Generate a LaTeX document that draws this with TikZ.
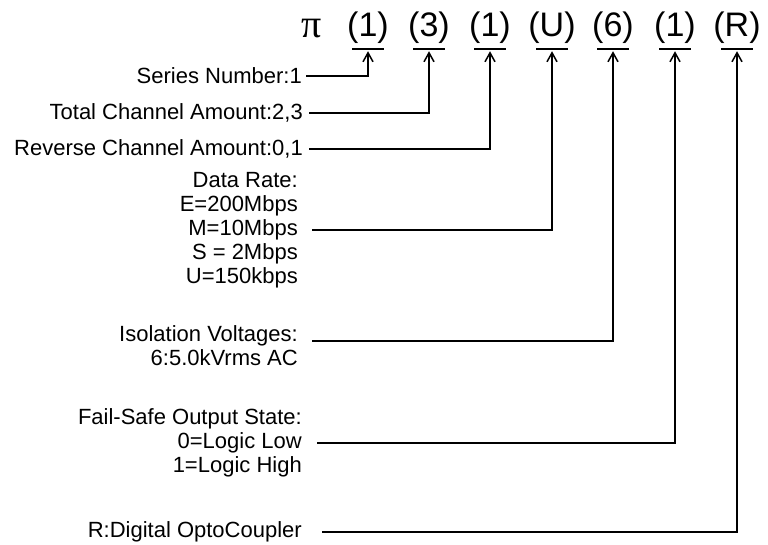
\documentclass[tikz,border=0pt]{standalone}
\usepackage{fontspec}
\setmainfont{Liberation Sans}
\newfontfamily\pifont{Liberation Serif}
\usetikzlibrary{arrows.meta}

\begin{document}
\begin{tikzpicture}
		[x=1pt,y=-1pt,
		code/.style={anchor=base,inner xsep=0pt,inner ysep=6pt,font=\fontsize{34}{34}\selectfont},
		lbl/.style={anchor=east,inner ysep=0pt,align=right,font=\fontsize{22}{24}\selectfont},
		uline/.style={line width=1.5pt},
		conn/.style={line width=1.5pt,-{Straight Barb[length=9pt,width=10pt]},shorten >=2pt}]

		\useasboundingbox (0,0) rectangle (768,544);

		% 型号前缀
		\node[inner sep=0pt,font=\pifont\fontsize{40}{40}\selectfont] (pi) at (312,29) {π};

		% 型号各位代码
		\foreach \t/\x [count=\i] in {1/368,3/429,1/490,U/552,6/613,1/675,R/737}
		\node[code] (g\i) at (\x,36) {(\t)};

		% 代码下划线
		\foreach \i in {1,...,7}
		\draw[uline] ([xshift=-16pt]g\i.south) -- ([xshift=16pt]g\i.south);

		% 各位说明
		\node[lbl,inner xsep=4pt] (sn) at (306,76) {Series Number:1};
		\node[lbl,inner xsep=6pt] (tc) at (309,113) {Total Channel Amount:2,3};
		\node[lbl,inner xsep=6pt] (rc) at (309,149) {Reverse Channel Amount:0,1};
		\node[lbl,inner xsep=14pt] (dr) at (312,230) {Data Rate:\\E=200Mbps\\M=10Mbps\\S = 2Mbps\\U=150kbps};
		\node[lbl,inner xsep=14pt] (iv) at (312,346) {Isolation Voltages:\\6:5.0kVrms AC};
		\node[lbl,inner xsep=15pt] (fs) at (317,443) {Fail-Safe Output State:\\0=Logic Low\\1=Logic High};
		\node[lbl,inner xsep=20pt] (oc) at (322,532) {R:Digital OptoCoupler};

		% 说明与代码之间的连线
		\draw[conn] (sn.east) -| (g1.south);
		\draw[conn] (tc.east) -| (g2.south);
		\draw[conn] (rc.east) -| (g3.south);
		\draw[conn] (dr.east) -| (g4.south);
		\draw[conn] ([yshift=5pt]iv.east) -| (g5.south);
		\draw[conn] (fs.east) -| (g6.south);
		\draw[conn] (oc.east) -| (g7.south);

	\end{tikzpicture}
\end{document}
